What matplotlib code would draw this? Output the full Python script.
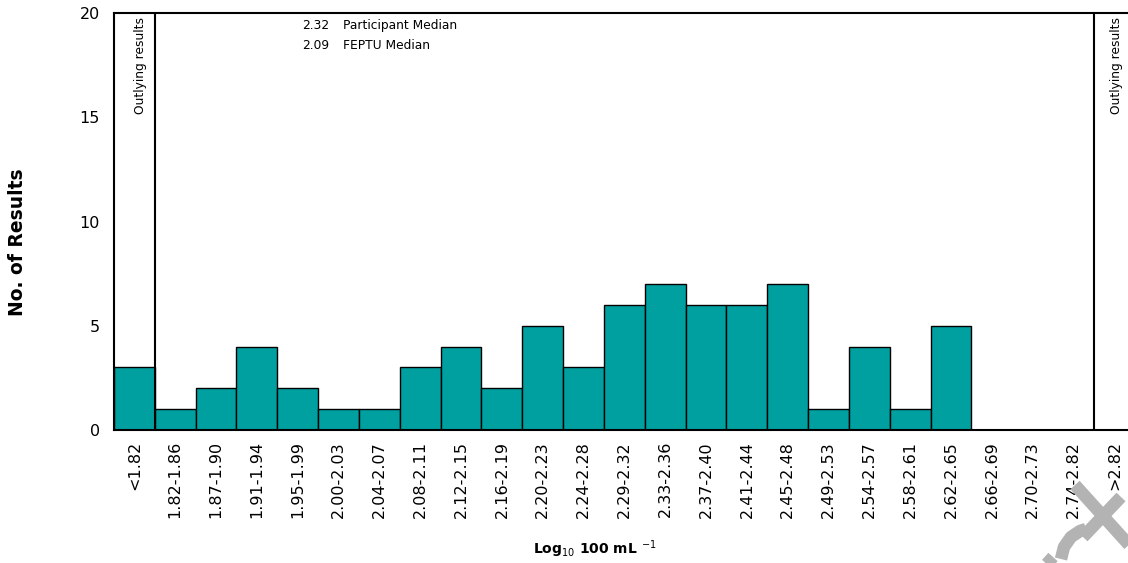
import matplotlib
matplotlib.use("Agg")
import matplotlib.pyplot as plt
from matplotlib.lines import Line2D
import numpy as np

categories = ["<1.82", "1.82-1.86", "1.87-1.90", "1.91-1.94", "1.95-1.99",
              "2.00-2.03", "2.04-2.07", "2.08-2.11", "2.12-2.15", "2.16-2.19",
              "2.20-2.23", "2.24-2.28", "2.29-2.32", "2.33-2.36", "2.37-2.40",
              "2.41-2.44", "2.45-2.48", "2.49-2.53", "2.54-2.57", "2.58-2.61",
              "2.62-2.65", "2.66-2.69", "2.70-2.73", "2.74-2.82", ">2.82"]
counts = [3, 1, 2, 4, 2, 1, 1, 3, 4, 2, 5, 3, 6, 7, 6, 6, 7, 1, 4, 1, 5, 0, 0, 0, 0]
yticks = [0, 5, 10, 15, 20]
participant_median = "2.32"
feptu_median = "2.09"

plt.rcParams['font.family'] = ['DejaVu Sans']

W, H = 1128, 563
fig = plt.figure(figsize=(W / 100, H / 100), dpi=100)
ax = fig.add_axes([114 / W, 1 - 430 / H, 1020.8 / W, 417 / H])

x = np.arange(len(categories))
ax.bar(x, counts, width=1.0, color="#00A0A0", edgecolor="black", linewidth=1.0, zorder=2)

ax.set_xlim(-0.5, len(categories) - 0.5)
ax.set_ylim(0, 20)
ax.set_yticks(yticks)
ax.set_xticks(x)
ax.set_xticklabels(categories, rotation=90, fontsize=11.5)
ax.tick_params(axis="x", length=0, pad=8)
ax.tick_params(axis="y", length=0, pad=10, labelsize=11.5)

for s in ["left", "bottom", "top"]:
    ax.spines[s].set_linewidth(1.5)
    ax.spines[s].set_color("black")
ax.spines["right"].set_visible(False)

# outlier boundary lines
ax.axvline(0.5, color="black", linewidth=1.5, zorder=3)
ax.axvline(len(categories) - 1.5, color="black", linewidth=1.5, zorder=3)

ax.text(0.15, 19.8, "Outlying results", rotation=90, ha="center", va="top", fontsize=8.8)
ax.text(len(categories) - 0.95, 19.8, "Outlying results", rotation=90, ha="center", va="top", fontsize=8.8)

ax.text(0.184, 0.971, participant_median, transform=ax.transAxes, fontsize=8.8, va="center", ha="left")
ax.text(0.224, 0.971, "Participant Median", transform=ax.transAxes, fontsize=8.8, va="center", ha="left")
ax.text(0.184, 0.923, feptu_median, transform=ax.transAxes, fontsize=8.8, va="center", ha="left")
ax.text(0.224, 0.923, "FEPTU Median", transform=ax.transAxes, fontsize=8.8, va="center", ha="left")

fig.text(18 / W, 1 - 242 / H, "No. of Results", rotation=90, ha="center", va="center",
         fontsize=13.5, fontweight="bold")
fig.text(595 / W, 1 - 549 / H, "Log$_{10}$ 100 mL $^{-1}$", ha="center", va="center",
         fontsize=10, fontweight="bold")

# watermark decoration (bottom-right)
wm = "#b3b3b3"
for xs, ys in [([1075, 1140], [78, 6]), ([1121, 1083], [66, 26]),
               ([1061, 1064, 1071, 1080, 1086], [4, 16, 26, 32, 34]),
               ([1044, 1053], [-4, 6])]:
    fig.add_artist(Line2D(xs, ys, transform=None, color=wm, linewidth=9,
                          solid_capstyle="butt", zorder=10))

fig.savefig("out.png", dpi=100)
